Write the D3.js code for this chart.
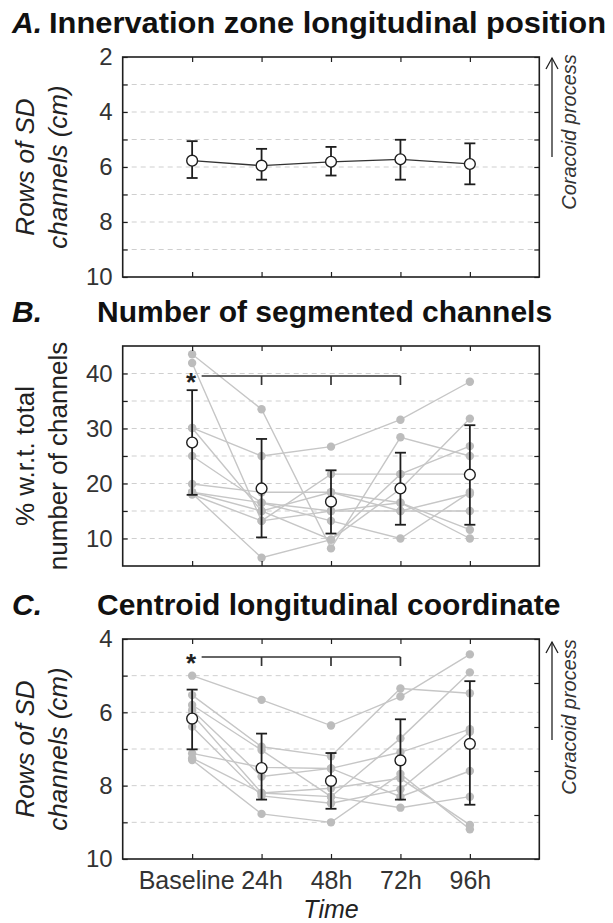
<!DOCTYPE html>
<html><head><meta charset="utf-8">
<script src="https://cdn.jsdelivr.net/npm/d3@7"></script>
<style>
body{margin:0;background:#fff}
svg{display:block}
text{font-family:"Liberation Sans",Arial,Helvetica,sans-serif}
</style>
</head><body>
<svg id="chart" width="613" height="923"></svg>
<script>
// ---------- DATA ----------
const categories = ["Baseline", "24h", "48h", "72h", "96h"];

// Panel A: innervation zone position (mean, error bar ends)
const A_mean   = [5.77, 5.95, 5.81, 5.72, 5.89];
const A_errLo  = [5.06, 5.34, 5.27, 5.01, 5.14];
const A_errHi  = [6.40, 6.46, 6.31, 6.46, 6.63];
const A_ticks  = [2, 3, 4, 5, 6, 7, 8, 9, 10];
const A_labels = [2, 4, 6, 8, 10];

// Panel B: % segmented channels
const B_mean   = [27.45, 19.1, 16.7, 19.1, 21.6];
const B_errLo  = [17.94, 10.2, 10.9, 12.5, 12.5];
const B_errHi  = [36.97, 28.1, 22.4, 25.6, 30.6];
const B_subjects = [
  [43.5, 33.5, 8.2, 28.4, 25.0],
  [41.9, 13.2, 21.7, 21.7, 21.7],
  [30.1, 25.0, 26.7, 31.6, 38.5],
  [30.1, 15.0, 9.8, 19.0, 31.8],
  [25.0, 16.5, 15.0, 15.0, 15.0],
  [19.9, 18.4, 18.4, 16.5, 10.0],
  [18.4, 16.5, 13.2, 10.0, 18.4],
  [18.2, 6.5, 9.8, 21.7, 26.8],
  [18.0, 13.2, 15.0, 16.5, 11.6],
  [18.4, 15.0, 18.4, 15.0, 18.1]
];
const B_ticks  = [10, 15, 20, 25, 30, 35, 40];
const B_labels = [10, 20, 30, 40];

// Panel C: centroid longitudinal coordinate
const C_mean   = [6.17, 7.52, 7.87, 7.31, 6.86];
const C_errLo  = [5.38, 6.58, 7.11, 6.19, 5.15];
const C_errHi  = [7.01, 8.38, 8.63, 8.38, 8.52];
const C_subjects = [
  [5.00, 5.66, 6.36, 5.57, 4.42],
  [5.53, 6.94, 7.20, 5.35, 5.48],
  [5.80, 7.03, 8.30, 6.71, 4.91],
  [5.94, 7.75, 7.53, 7.09, 6.46],
  [6.05, 8.20, 8.07, 7.80, 9.07],
  [6.39, 8.28, 8.48, 8.10, 6.53],
  [7.12, 7.50, 7.53, 8.30, 7.60],
  [7.30, 8.77, 9.00, 7.68, 9.19],
  [7.25, 8.20, 8.30, 8.60, 8.30]
];
const C_ticks  = [4, 5, 6, 7, 8, 9, 10];
const C_labels = [4, 6, 8, 10];
const C_rightTicks = [0, 1, 2, 3, 4, 5];

// ---------- DRAW ----------
const svg = d3.select("#chart");
const L = 122.7, R = 539.3, H = 220;
const x = d3.scalePoint().domain(categories).range([L, R]).padding(1);

const GRAY_PT = "#bcbcbc", GRAY_LN = "#c6c6c6", INK = "#1e1e1e";
const FONT = '"Liberation Sans",Arial,sans-serif';

function panel(o) {
  const g = svg.append("g");
  const y = d3.scaleLinear().domain(o.domain).range(o.invert ? [o.top, o.top + H] : [o.top + H, o.top]);

  // title
  const t = g.append("text").attr("y", o.top - 24).attr("font-size", 30).attr("font-weight", "bold").attr("fill", "#111");
  t.append("tspan").attr("x", 12).attr("font-style", "italic").text(o.letter);
  const tt = t.append("tspan").attr("x", o.titleX).text(o.title);
  if (o.titleLen) tt.attr("textLength", o.titleLen).attr("lengthAdjust", "spacingAndGlyphs");

  // gridlines
  g.append("g").selectAll("line").data(o.grid).join("line")
    .attr("x1", L).attr("x2", R).attr("y1", d => y(d)).attr("y2", d => y(d))
    .attr("stroke", "#cfcfcf").attr("stroke-width", 1).attr("stroke-dasharray", "5,4");

  // individual subjects
  if (o.subjects) {
    const line = d3.line().x((d, i) => x(categories[i])).y(d => y(d));
    g.append("g").selectAll("path").data(o.subjects).join("path")
      .attr("d", line).attr("fill", "none").attr("stroke", GRAY_LN).attr("stroke-width", 1.4);
    g.append("g").selectAll("circle").data(o.subjects.flatMap(s => s.map((v, i) => [i, v]))).join("circle")
      .attr("cx", d => x(categories[d[0]])).attr("cy", d => y(d[1])).attr("r", 4.2).attr("fill", GRAY_PT);
  }

  // significance bracket
  if (o.sig) {
    const ly = o.top + o.sig;
    const bx = x(categories[0]);
    g.append("line").attr("x1", bx + 9.5).attr("x2", x(categories[3])).attr("y1", ly).attr("y2", ly)
      .attr("stroke", "#333").attr("stroke-width", 1.7);
    [1, 2, 3].forEach(i => g.append("line").attr("x1", x(categories[i])).attr("x2", x(categories[i]))
      .attr("y1", ly).attr("y2", ly + 9).attr("stroke", "#333").attr("stroke-width", 1.7));
    g.append("text").attr("x", bx - 1).attr("y", ly + 15).attr("text-anchor", "middle")
      .attr("font-size", 26).attr("font-weight", "bold").attr("fill", "#222").text("*");
  }

  // error bars
  const eb = g.append("g").attr("stroke", INK).attr("stroke-width", 1.8);
  categories.forEach((c, i) => {
    const cx = x(c), y1 = y(o.lo[i]), y2 = y(o.hi[i]);
    eb.append("line").attr("x1", cx).attr("x2", cx).attr("y1", y1).attr("y2", y2);
    eb.append("line").attr("x1", cx - 5.5).attr("x2", cx + 5.5).attr("y1", y1).attr("y2", y1);
    eb.append("line").attr("x1", cx - 5.5).attr("x2", cx + 5.5).attr("y1", y2).attr("y2", y2);
  });

  if (o.meanLine) {
    g.append("path").attr("d", d3.line().x((d, i) => x(categories[i])).y(d => y(d))(o.mean))
      .attr("fill", "none").attr("stroke", "#333").attr("stroke-width", 1.3);
  }
  g.append("g").selectAll("circle").data(o.mean).join("circle")
    .attr("cx", (d, i) => x(categories[i])).attr("cy", d => y(d)).attr("r", 5.4)
    .attr("fill", "#fff").attr("stroke", INK).attr("stroke-width", 1.4);

  // axes (inward ticks)
  const left = d3.axisLeft(y).tickValues(o.ticks).tickSize(-5).tickPadding(10)
    .tickFormat(d => o.labels.includes(d) ? d : "");
  const la = g.append("g").attr("transform", `translate(${L},0)`).call(left);
  la.select(".domain").remove();
  la.selectAll("text").attr("font-size", 24).attr("fill", "#333").attr("font-family", FONT);
  la.selectAll("line").attr("stroke", INK).attr("stroke-width", 1.2);

  const yr = o.rightScale ? d3.scaleLinear().domain([o.rightScale[0], o.rightScale[o.rightScale.length - 1]]).range([o.top, o.top + H]) : y;
  const right = d3.axisRight(yr).tickValues(o.rightScale || o.ticks).tickSize(-5).tickFormat("");
  const ra = g.append("g").attr("transform", `translate(${R},0)`).call(right);
  ra.select(".domain").remove();
  ra.selectAll("line").attr("stroke", INK).attr("stroke-width", 1.2);

  const top = d3.axisTop(x).tickSize(-5).tickFormat("");
  const ta = g.append("g").attr("transform", `translate(0,${o.top})`).call(top);
  ta.select(".domain").remove();
  ta.selectAll("line").attr("stroke", INK).attr("stroke-width", 1.2);

  const bottom = d3.axisBottom(x).tickSize(-5).tickPadding(12).tickFormat(o.xLabels ? d => d : "");
  const ba = g.append("g").attr("transform", `translate(0,${o.top + H})`).call(bottom);
  ba.select(".domain").remove();
  ba.selectAll("line").attr("stroke", INK).attr("stroke-width", 1.2);
  ba.selectAll("text").attr("font-size", 25).attr("fill", "#333").attr("font-family", FONT)
    .attr("dx", d => d === categories[0] ? -6 : 0);

  // frame
  g.append("rect").attr("x", L).attr("y", o.top).attr("width", R - L).attr("height", H)
    .attr("fill", "none").attr("stroke", INK).attr("stroke-width", 1.6);

  // y label (two lines)
  const cy = o.top + H / 2;
  o.ylabel.forEach((s, k) => {
    g.append("text").attr("transform", `translate(${k === 0 ? 34 : 67},${cy}) rotate(-90)`)
      .attr("text-anchor", "middle").attr("font-size", 26).attr("fill", "#222")
      .attr("font-style", o.ylabelItalic ? "italic" : "normal").text(s);
  });

  // coracoid arrow
  if (o.arrow) {
    const ax = 552, a1 = o.top + o.arrow[0], a2 = o.top + o.arrow[1];
    g.append("line").attr("x1", ax).attr("x2", ax).attr("y1", a2).attr("y2", a1).attr("stroke", "#222").attr("stroke-width", 1.3);
    g.append("path").attr("d", `M${ax - 6},${a1 + 11}L${ax},${a1}L${ax + 6},${a1 + 11}`)
      .attr("fill", "none").attr("stroke", "#222").attr("stroke-width", 1.3);
    g.append("text").attr("transform", `translate(576,${o.top + o.arrow[2]}) rotate(-90)`)
      .attr("text-anchor", "middle").attr("font-size", 20).attr("font-style", "italic").attr("fill", "#333")
      .text("Coracoid process");
  }
  return g;
}

panel({ top: 57, domain: [2, 10], invert: true, letter: "A.", titleX: 49, titleLen: 557,
  title: "Innervation zone longitudinal position",
  grid: [3, 4, 5, 6, 7, 8, 9], ticks: A_ticks, labels: A_labels,
  mean: A_mean, lo: A_errLo, hi: A_errHi, meanLine: true,
  ylabel: ["Rows of SD", "channels (cm)"], ylabelItalic: true, arrow: [1, 100, 75] });

panel({ top: 346, domain: [5, 45], invert: false, letter: "B.", titleX: 97,
  title: "Number of segmented channels",
  grid: [10, 15, 20, 25, 30, 35, 40], ticks: B_ticks, labels: B_labels,
  subjects: B_subjects, mean: B_mean, lo: B_errLo, hi: B_errHi, sig: 30,
  ylabel: ["% w.r.t. total", "number of channels"], ylabelItalic: false });

panel({ top: 639, domain: [4, 10], invert: true, letter: "C.", titleX: 97,
  title: "Centroid longitudinal coordinate",
  grid: [5, 6, 7, 8, 9], ticks: C_ticks, labels: C_labels, rightScale: C_rightTicks,
  subjects: C_subjects, mean: C_mean, lo: C_errLo, hi: C_errHi, sig: 18, xLabels: true,
  ylabel: ["Rows of SD", "channels (cm)"], ylabelItalic: true, arrow: [3, 101, 78] });

svg.append("text").attr("x", x("48h")).attr("y", 918).attr("text-anchor", "middle")
  .attr("font-size", 25).attr("font-style", "italic").attr("fill", "#222").text("Time");
</script>
</body></html>
